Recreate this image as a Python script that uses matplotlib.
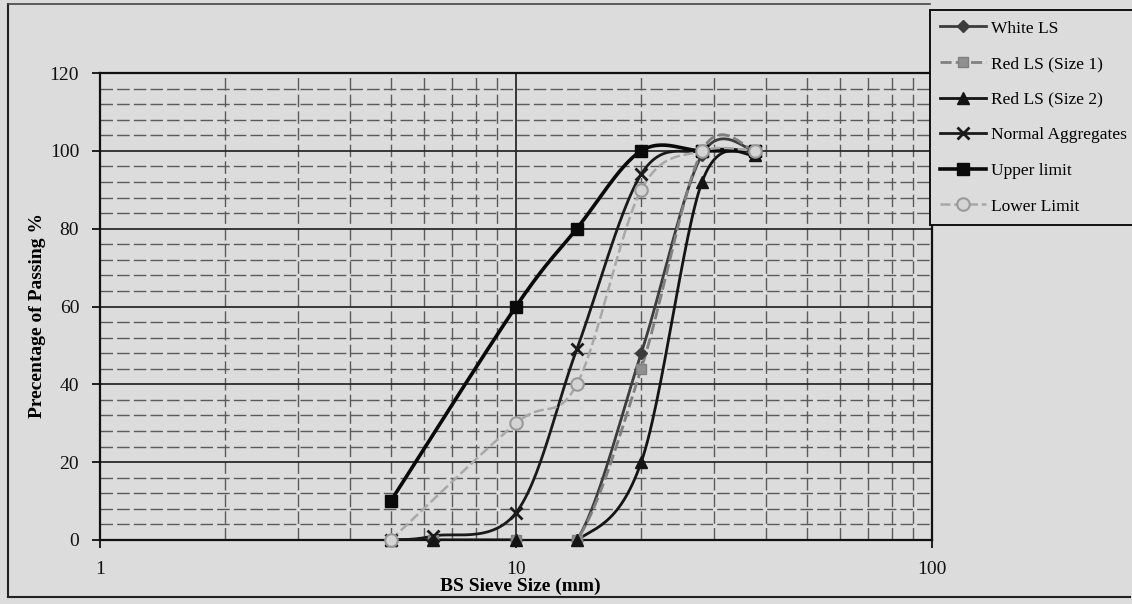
import numpy as np
import matplotlib.pyplot as plt
from matplotlib.lines import Line2D
from matplotlib.ticker import FixedLocator, NullFormatter

# Sieve sizes (mm) and percentage passing for each series
sieve = [5, 6.3, 10, 14, 20, 28, 37.5]
white_ls = [0, 0, 0, 0, 48, 99, 100]
red_ls_1 = [0, 0, 0, 0, 44, 100, 100]
red_ls_2 = [0, 0, 0, 0, 20, 92, 99]
normal_agg = [0, 1, 7, 49, 94, 100, 100]
upper_limit = [10, np.nan, 60, 80, 100, 100, 100]
lower_limit = [0, np.nan, 30, 40, 90, 100, 100]

labels = ["White LS", "Red LS (Size 1)", "Red LS (Size 2)",
          "Normal Aggregates", "Upper limit", "Lower Limit"]
x_ticks = [1, 10, 100]
y_ticks = [0, 20, 40, 60, 80, 100, 120]

BG = "#dcdcdc"
FONT = "Liberation Serif"


def smooth(xs, ys, n=30):
    """Excel-style smoothed line (Catmull-Rom) in log-x screen space."""
    xs = np.asarray(xs, float)
    ys = np.asarray(ys, float)
    ok = ~np.isnan(ys)
    xs, ys = xs[ok], ys[ok]
    u = np.log10(xs) / 2 * 832
    v = ys / 120 * 467
    p = np.column_stack([u, v])
    p = np.vstack([p[0], p, p[-1]])
    out = []
    t = np.linspace(0, 1, n)[:, None]
    for i in range(1, len(p) - 2):
        p0, p3 = p[i], p[i + 1]
        c1 = p0 + (p[i + 1] - p[i - 1]) / 6
        c2 = p3 - (p[i + 2] - p[i]) / 6
        seg = ((1 - t) ** 3) * p0 + 3 * ((1 - t) ** 2) * t * c1 \
            + 3 * (1 - t) * t ** 2 * c2 + t ** 3 * p3
        out.append(seg)
    seg = np.vstack(out)
    return 10 ** (seg[:, 0] / 832 * 2), seg[:, 1] / 467 * 120


plt.rcParams["font.family"] = [FONT, "DejaVu Serif"]

fig = plt.figure(figsize=(11.32, 6.04), dpi=100, facecolor=BG)
ax = fig.add_axes([100 / 1132, 64 / 604, 832 / 1132, 467 / 604])
ax.set_facecolor(BG)
ax.set_xscale("log")
ax.set_xlim(1, 100)
ax.set_ylim(0, 120)

# Grid
minor_x = [2, 3, 4, 5, 6, 7, 8, 9, 20, 30, 40, 50, 60, 70, 80, 90]
ax.xaxis.set_major_locator(FixedLocator(x_ticks))
ax.xaxis.set_minor_locator(FixedLocator(minor_x))
ax.xaxis.set_minor_formatter(NullFormatter())
ax.set_xticks(x_ticks)
ax.set_xticklabels([str(v) for v in x_ticks])
ax.set_yticks(y_ticks)
ax.set_yticks(np.arange(0, 121, 4), minor=True)
ax.grid(which="major", color="#2a2a2a", lw=1.3)
ax.grid(which="minor", color="#5a5a5a", lw=1.0, ls=(0, (9, 3)))
ax.set_axisbelow(True)
ax.tick_params(which="major", direction="out", length=6, width=1.3,
               labelsize=14, pad=9, colors="#111111")
ax.tick_params(which="minor", length=0)
for s in ax.spines.values():
    s.set_color("#111111")
    s.set_linewidth(1.6)

# Series
styles = [
    (white_ls, dict(color="#3c3c3c", lw=2.0, ls="-"),
     dict(marker="D", ms=6, mfc="#3c3c3c", mec="#3c3c3c")),
    (red_ls_1, dict(color="#808080", lw=2.0, ls=(0, (4, 1.5))),
     dict(marker="s", ms=7, mfc="#909090", mec="#808080")),
    (red_ls_2, dict(color="#141414", lw=2.0, ls="-"),
     dict(marker="^", ms=8, mfc="#141414", mec="#141414")),
    (normal_agg, dict(color="#1a1a1a", lw=2.0, ls="-"),
     dict(marker="x", ms=8, mew=2, mfc="#1a1a1a", mec="#1a1a1a")),
    (upper_limit, dict(color="#0a0a0a", lw=2.6, ls="-"),
     dict(marker="s", ms=9, mfc="#0a0a0a", mec="#0a0a0a")),
    (lower_limit, dict(color="#a8a8a8", lw=1.8, ls=(0, (4, 1.5))),
     dict(marker="o", ms=9, mfc="#d4d4d4", mec="#9a9a9a", mew=1.5)),
]
handles = []
for vals, lst, mst in styles:
    sx, sy = smooth(sieve, vals)
    ax.plot(sx, sy, zorder=3, **lst)
    ax.plot(sieve, vals, ls="none", clip_on=False, zorder=4, **mst)
    handles.append(Line2D([], [], **lst, **mst))

# Axis labels
ax.set_ylabel("Precentage of Passing %", fontsize=14, fontweight="bold")
ax.yaxis.set_label_coords(-54 / 832, 0.48)
ax.set_xlabel("BS Sieve Size (mm)", fontsize=14, fontweight="bold")
ax.xaxis.set_label_coords(0.505, -46 / 467)
ax.xaxis.label.set_va("center")

# Legend
leg = fig.legend(handles, labels, loc="upper left",
                 bbox_to_anchor=(930 / 1132, 1 - 10 / 604), fontsize=12.5,
                 frameon=True, fancybox=False, facecolor=BG,
                 edgecolor="#111111", borderpad=0.6, labelspacing=1.12,
                 handlelength=2.6, handletextpad=0.3, borderaxespad=0)
leg.get_frame().set_linewidth(1.4)
leg.get_frame().set_alpha(1)

# Chart area border (left, top, bottom)
fig.add_artist(Line2D([8 / 1132, 8 / 1132], [7 / 604, 1 - 4 / 604],
                      transform=fig.transFigure, color="#222222", lw=1.5))
fig.add_artist(Line2D([8 / 1132, 930 / 1132], [1 - 4 / 604, 1 - 4 / 604],
                      transform=fig.transFigure, color="#444444", lw=1.2))
fig.add_artist(Line2D([8 / 1132, 1130 / 1132], [7 / 604, 7 / 604],
                      transform=fig.transFigure, color="#222222", lw=1.5))

fig.savefig("out.png", dpi=100, facecolor=BG)
